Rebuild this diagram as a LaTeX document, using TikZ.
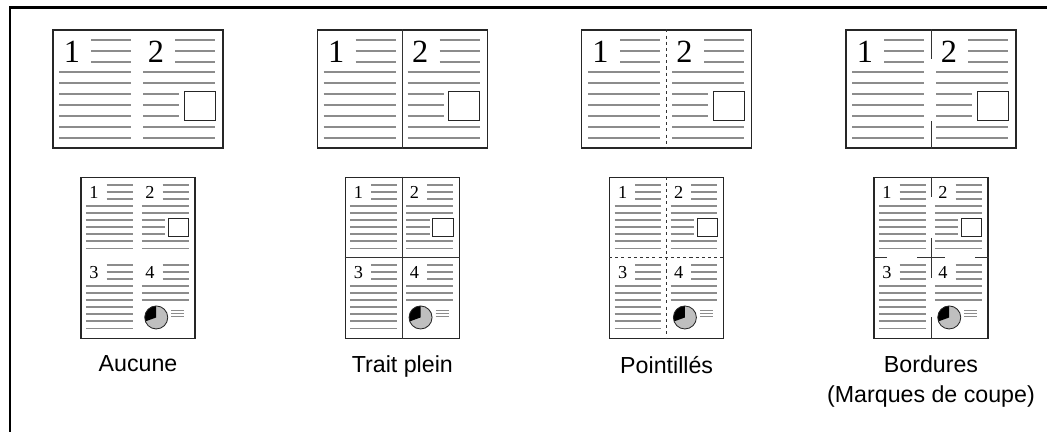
\documentclass[tikz,border=0pt]{standalone}
\usepackage{fontspec}
\setsansfont{Liberation Sans}
\newfontfamily\numfont{Liberation Serif}
\usetikzlibrary{positioning}

% one column of a mini page, in its own coordinates
% #1 page name, #2 page number, #3 0 text only, 1 picture box, 2 pie chart
\newcommand\pagecol[3]{%
  \node[pagenum] (#1-#2) at (19.5,22.5) {#2};
  \foreach \y in {11,21.7,32.4}
    \draw[textline] (39,\y) -- (79,\y);
  \ifcase#3
    \foreach \y in {43,54,65,76,87,98,109}
      \draw[textline] (7,\y) -- (79,\y);
  \or
    \foreach \y in {43,54,98,109}
      \draw[textline] (7,\y) -- (79,\y);
    \foreach \y in {65,76,87}
      \draw[textline] (7,\y) -- (43,\y);
    \draw[picbox] (48,62) rectangle (79,91);
  \or
    \foreach \y in {43,54,65}
      \draw[textline] (7,\y) -- (79,\y);
    \fill[black!25] (29,92) circle (17.7);
    \fill[black] (29,92) -- ++(270:17.7) arc[start angle=270, end angle=160, radius=17.7] -- cycle;
    \draw[picbox] (29,92) circle (17.7);
    \foreach \y in {81.5,86.2,90.8}
      \draw[black!45, line width=0.8pt] (52,\y) -- (72,\y);
  \fi
}

\begin{document}
\begin{tikzpicture}[x=0.025cm, y=-0.025cm,
    landpage/.style={draw=black!85, line width=0.9pt, minimum width=4.25cm,
                     minimum height=2.95cm, inner sep=0pt},
    portpage/.style={landpage, minimum width=2.85cm, minimum height=4.025cm},
    bignum/.style={font=\numfont\fontsize{23}{23}\selectfont, inner sep=0pt},
    smallnum/.style={font=\numfont\fontsize{13}{13}\selectfont, inner sep=0pt},
    picbox/.style={draw=black!85, line width=0.6pt},
    cutline/.style={draw=black!80, line width=0.7pt},
    dotline/.style={cutline, dash pattern=on 2.2pt off 2.2pt},
    caption/.style={font=\sffamily\fontsize{16.5}{21.3}\selectfont, align=center}]

    \useasboundingbox (0,0) rectangle (1047,432);

    % frame
    \draw[line width=2pt] (10,432) -- (10,7.3) -- (1047,7.3);

    % pages: two up on top, four up below
    \node[landpage] (top1) at (138,89) {};
    \node[landpage, right=2.325cm of top1] (top2) {};
    \node[landpage, right=2.325cm of top2] (top3) {};
    \node[landpage, right=2.325cm of top3] (top4) {};

    \node[portpage, below=0.7cm of top1] (bot1) {};
    \node[portpage, below=0.7cm of top2] (bot2) {};
    \node[portpage, below=0.7cm of top3] (bot3) {};
    \node[portpage, below=0.7cm of top4] (bot4) {};

    % page contents
    \foreach \p in {1,...,4} {
        \begin{scope}[shift={(top\p.north west)}, pagenum/.style=bignum,
                      textline/.style={draw=black!45, line width=1.6pt}]
            \pagecol{top\p}{1}{0}
            \begin{scope}[shift={(84,0)}]
                \pagecol{top\p}{2}{1}
            \end{scope}
        \end{scope}
        \begin{scope}[shift={(bot\p.north west)}, shift={(1,1)}, scale=0.65,
                      pagenum/.style=smallnum,
                      textline/.style={draw=black!45, line width=1.3pt}]
            \pagecol{bot\p}{1}{0}
            \begin{scope}[shift={(86.2,0)}]
                \pagecol{bot\p}{2}{1}
            \end{scope}
            \begin{scope}[shift={(0,123.1)}]
                \pagecol{bot\p}{3}{0}
            \end{scope}
            \begin{scope}[shift={(86.2,123.1)}]
                \pagecol{bot\p}{4}{2}
            \end{scope}
        \end{scope}
    }

    % solid borders
    \draw[cutline] (top2.north) -- (top2.south);
    \draw[cutline] (bot2.north) -- (bot2.south) (bot2.west) -- (bot2.east);

    % dotted borders
    \draw[dotline] (top3.north) -- (top3.south);
    \draw[dotline] (bot3.north) -- (bot3.south) (bot3.west) -- (bot3.east);

    % crop marks
    \draw[cutline] (top4.north) -- ++(0,30) (top4.south) -- ++(0,-28);
    \draw[cutline] (bot4.north) -- ++(0,20) (bot4.south) -- ++(0,-22)
                   (bot4.west) -- ++(14,0) (bot4.east) -- ++(-14,0)
                   (bot4.center) ++(0,-20) -- ++(0,40)
                   (bot4.center) ++(-14,0) -- ++(28,0);

    % captions
    \node[caption, below=0.3cm of bot1] (cap1) {Aucune};
    \node[caption, below=0.3cm of bot2] (cap2) {Trait plein};
    \node[caption, below=0.3cm of bot3] (cap3) {Pointillés};
    \node[caption, below=0.3cm of bot4] (cap4) {Bordures\\(Marques de coupe)};

\end{tikzpicture}
\end{document}
